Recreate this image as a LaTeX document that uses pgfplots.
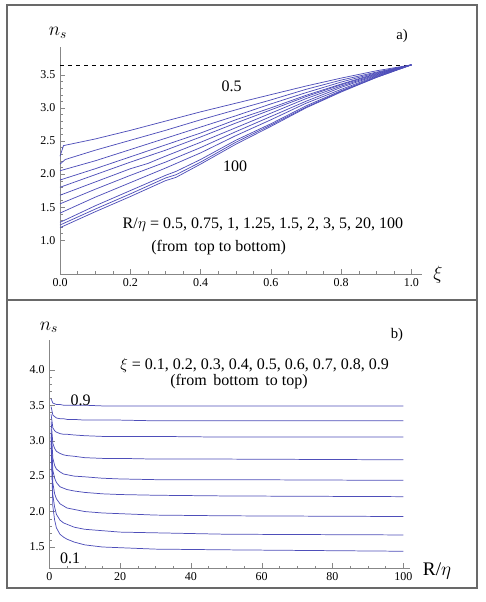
\documentclass[border=0pt]{standalone}
\usepackage{fontspec}
\setmainfont{Liberation Serif}
\usepackage{pgfplots}
\pgfplotsset{compat=1.18}
\definecolor{curveblue}{RGB}{78,78,185}
\definecolor{axisgray}{RGB}{135,135,135}
\definecolor{framegray}{RGB}{105,105,105}

\pgfplotsset{
  mma/.style={
    scale only axis, anchor=south west, clip=false,
    axis lines=left, axis line style={-, axisgray},
    tick align=inside, tick style={axisgray},
    major tick length=4pt, minor tick length=2pt,
    tick label style={font=\fontsize{9}{10}\selectfont, black},
    /pgf/number format/assume math mode=true,
  },
  c/.style={draw=curveblue, line width=0.55pt, mark=none},
  onedec/.style={/pgf/number format/.cd, fixed, fixed zerofill, precision=1},
}

\begin{document}
\begin{tikzpicture}
\path (0pt,0pt) rectangle (363.75pt,451.5pt);
\draw[framegray, line width=1.1pt] (5.25pt,10.5pt) rectangle (357.75pt,447.75pt);
\draw[framegray, line width=1.1pt] (5.25pt,226.5pt) -- (357.75pt,226.5pt);

% panel a: n_s against xi
\begin{axis}[mma,
  at={(45pt,246pt)}, width=271.5pt, height=170.25pt,
  xmin=0, xmax=1.03, ymin=0.49, ymax=3.92,
  xtick={0,0.2,0.4,0.6,0.8,1.0}, ytick={1,1.5,2,2.5,3,3.5},
  minor x tick num=3, minor y tick num=4,
  xticklabel style={onedec}, yticklabel style={onedec},
]
\addplot[black, dashed, line width=0.5pt] coordinates {(0,3.65) (1,3.65)};
\addplot[c] coordinates {(0,2.27) (0.01,2.43) (0.1,2.53) (0.2,2.66) (0.3,2.80) (0.4,2.94) (0.5,3.07) (0.6,3.20) (0.7,3.33) (0.8,3.45) (0.9,3.56) (1,3.65)};
\addplot[c] coordinates {(0,2.15) (0.015,2.22) (0.1,2.36) (0.2,2.51) (0.3,2.66) (0.4,2.82) (0.5,2.97) (0.6,3.12) (0.7,3.28) (0.8,3.42) (0.9,3.54) (1,3.65)};
\addplot[c] coordinates {(0,2.05) (0.1,2.20) (0.2,2.37) (0.3,2.54) (0.4,2.71) (0.5,2.88) (0.6,3.06) (0.7,3.23) (0.8,3.39) (0.9,3.53) (1,3.65)};
\addplot[c] coordinates {(0,1.91) (0.1,2.08) (0.2,2.26) (0.3,2.44) (0.4,2.62) (0.5,2.82) (0.6,3.00) (0.7,3.19) (0.8,3.36) (0.9,3.52) (1,3.65)};
\addplot[c] coordinates {(0,1.80) (0.1,1.99) (0.2,2.18) (0.3,2.36) (0.4,2.56) (0.5,2.77) (0.6,2.97) (0.7,3.17) (0.8,3.35) (0.9,3.51) (1,3.65)};
\addplot[c] coordinates {(0,1.68) (0.1,1.88) (0.2,2.08) (0.25,2.16) (0.3,2.27) (0.4,2.48) (0.5,2.70) (0.6,2.92) (0.7,3.14) (0.8,3.33) (0.9,3.50) (1,3.65)};
\addplot[c] coordinates {(0,1.55) (0.1,1.77) (0.2,1.98) (0.3,2.18) (0.4,2.40) (0.5,2.64) (0.6,2.87) (0.7,3.10) (0.8,3.31) (0.9,3.49) (1,3.65)};
\addplot[c] coordinates {(0,1.41) (0.1,1.65) (0.2,1.87) (0.3,2.09) (0.4,2.32) (0.5,2.58) (0.6,2.82) (0.7,3.07) (0.8,3.28) (0.9,3.48) (1,3.65)};
\addplot[c] coordinates {(0,1.27) (0.1,1.52) (0.2,1.75) (0.3,1.98) (0.33,2.04) (0.4,2.22) (0.5,2.51) (0.6,2.76) (0.7,3.03) (0.8,3.26) (0.9,3.47) (1,3.65)};
\addplot[c] coordinates {(0,1.23) (0.1,1.47) (0.2,1.70) (0.3,1.94) (0.33,1.99) (0.4,2.18) (0.5,2.48) (0.6,2.74) (0.7,3.01) (0.8,3.25) (0.9,3.46) (1,3.65)};
\addplot[c] coordinates {(0,1.19) (0.1,1.43) (0.2,1.66) (0.3,1.90) (0.33,1.95) (0.4,2.15) (0.5,2.45) (0.6,2.72) (0.7,3.00) (0.8,3.24) (0.9,3.46) (1,3.65)};
\end{axis}

% panel b: n_s against R/eta
\begin{axis}[mma,
  at={(37pt,25.3pt)}, width=270.5pt, height=171.2pt,
  xmin=0, xmax=101.9, ymin=1.2, ymax=4.42,
  xtick={0,20,40,60,80,100}, ytick={1.5,2,2.5,3,3.5,4},
  minor x tick num=3, minor y tick num=4,
  yticklabel style={onedec},
]
\addplot[c] coordinates {(0.5,2.95) (1,2.07) (1.5,1.88) (2,1.77) (3,1.68) (4,1.64) (5,1.61) (7,1.57) (10,1.53) (15,1.50) (20,1.49) (30,1.47) (50,1.46) (100,1.44)};
\addplot[c] coordinates {(0.5,3.00) (1,2.23) (1.5,2.06) (2,1.96) (3,1.88) (4,1.84) (5,1.82) (7,1.78) (10,1.75) (15,1.73) (20,1.71) (30,1.70) (50,1.68) (100,1.67)};
\addplot[c] coordinates {(0.5,3.05) (1,2.40) (1.5,2.25) (2,2.18) (3,2.11) (4,2.08) (5,2.05) (7,2.03) (10,2.00) (15,1.98) (20,1.97) (30,1.95) (50,1.94) (100,1.93)};
\addplot[c] coordinates {(0.5,3.10) (1,2.58) (1.5,2.47) (2,2.41) (3,2.35) (4,2.33) (5,2.31) (7,2.29) (10,2.27) (15,2.25) (20,2.24) (30,2.23) (50,2.22) (100,2.21)};
\addplot[c] coordinates {(0.5,3.17) (1,2.75) (1.5,2.65) (2,2.60) (3,2.56) (4,2.53) (5,2.52) (7,2.50) (10,2.49) (15,2.47) (20,2.46) (30,2.45) (50,2.45) (100,2.44)};
\addplot[c] coordinates {(0.5,3.27) (1,2.96) (1.5,2.89) (2,2.85) (3,2.82) (4,2.80) (5,2.79) (7,2.78) (10,2.76) (15,2.75) (20,2.75) (30,2.74) (50,2.74) (100,2.73)};
\addplot[c] coordinates {(0.5,3.37) (1,3.18) (1.5,3.14) (2,3.12) (3,3.10) (4,3.09) (5,3.09) (7,3.08) (10,3.07) (15,3.06) (20,3.06) (30,3.06) (50,3.05) (100,3.05)};
\addplot[c] coordinates {(0.5,3.48) (1,3.36) (1.5,3.34) (2,3.32) (3,3.31) (4,3.31) (5,3.30) (7,3.30) (10,3.29) (15,3.29) (20,3.29) (30,3.28) (50,3.28) (100,3.28)};
\addplot[c] coordinates {(0.5,3.59) (1,3.53) (1.5,3.52) (2,3.51) (3,3.51) (4,3.50) (5,3.50) (7,3.50) (10,3.50) (15,3.49) (20,3.49) (30,3.49) (50,3.49) (100,3.49)};
\end{axis}

% labels and annotations
\node at (43.5pt,427pt) {\Large$n_s$};
\node at (301.5pt,424.5pt) {\fontsize{11}{12}\selectfont a)};
\node at (328.5pt,245.25pt) {\Large$\xi$};
\node at (173.8pt,386.5pt) {\fontsize{12}{13}\selectfont 0.5};
\node at (176.25pt,326.5pt) {\fontsize{12}{13}\selectfont 100};
\node[anchor=west] at (88.5pt,282.75pt) {\fontsize{12}{13}\selectfont R/$\eta$ = 0.5, 0.75, 1, 1.25, 1.5, 2, 3, 5, 20, 100};
\node[anchor=west] at (110pt,265.5pt) {\fontsize{12}{13}\selectfont (from\, top to bottom)};

\node at (36.75pt,206pt) {\Large$n_s$};
\node at (297.75pt,200.25pt) {\fontsize{11}{12}\selectfont b)};
\node at (327.75pt,23.25pt) {\Large R/$\eta$};
\node at (60.5pt,151.5pt) {\fontsize{12}{13}\selectfont 0.9};
\node at (52.5pt,32.75pt) {\fontsize{12}{13}\selectfont 0.1};
\node[align=left, anchor=north west, inner sep=0pt, font=\fontsize{12}{9}\selectfont] at (90pt,183pt)
  {$\xi$ = 0.1, 0.2, 0.3, 0.4, 0.5, 0.6, 0.7, 0.8, 0.9\\
   \hspace*{37.5pt}(from\, bottom\, to top)};
\end{tikzpicture}
\end{document}
